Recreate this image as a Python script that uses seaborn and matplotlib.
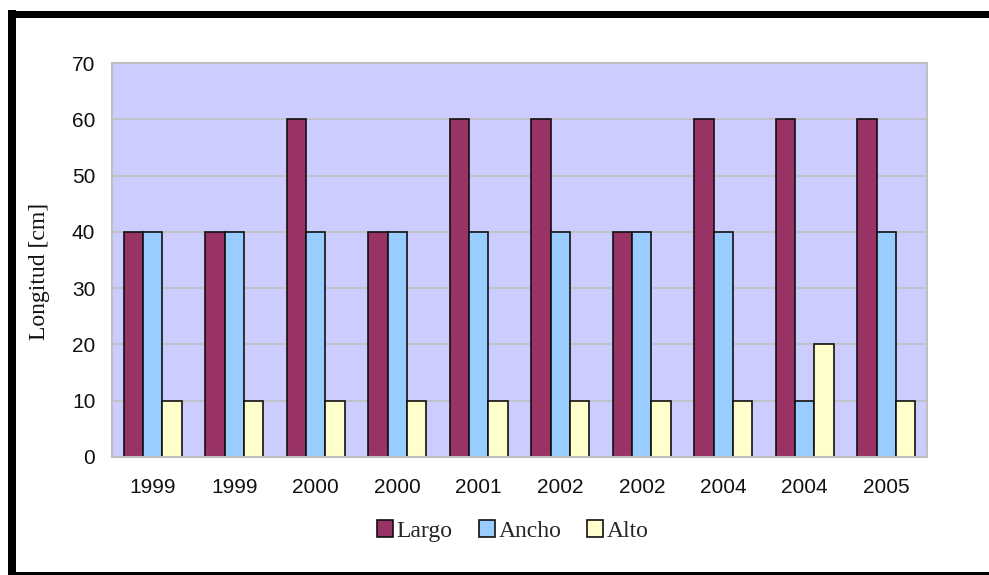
import matplotlib
matplotlib.use("Agg")
import matplotlib.pyplot as plt
from matplotlib.lines import Line2D
from matplotlib.patches import Patch
from matplotlib.ticker import FixedLocator, MultipleLocator
import numpy as np
import pandas as pd
import seaborn as sns

years = ["1999", "1999", "2000", "2000", "2001", "2002", "2002", "2004", "2004", "2005"]
largo = [40, 40, 60, 40, 60, 60, 40, 60, 60, 60]
ancho = [40, 40, 40, 40, 40, 40, 40, 40, 10, 40]
alto = [10, 10, 10, 10, 10, 10, 10, 10, 20, 10]
series = ["Largo", "Ancho", "Alto"]
colors = ["#993366", "#99CCFF", "#FFFFCC"]

rows = []
for name, vals in zip(series, [largo, ancho, alto]):
    for i, v in enumerate(vals):
        rows.append({"pos": i, "Serie": name, "valor": v})
df = pd.DataFrame(rows)

sns.set_theme(style="white")
plt.rcParams["font.family"] = ["Liberation Sans", "DejaVu Sans"]
serif = ["Liberation Serif", "DejaVu Serif"]

fig = plt.figure(figsize=(9.89, 5.75), dpi=100)
ax = fig.add_axes([112 / 989, 1 - 457 / 575, 815 / 989, 394 / 575])
ax.set_facecolor("#CCCCFF")

sns.barplot(data=df, x="pos", y="valor", hue="Serie", hue_order=series,
            palette=colors, width=0.71, edgecolor="#111111", linewidth=1.2,
            saturation=1, legend=False, ax=ax)

ax.set_ylim(0, 70)
ax.set_xlim(-0.5, len(years) - 0.5)
ax.yaxis.set_major_locator(MultipleLocator(10))
ax.grid(axis="y", color="#BFBFBF", linewidth=1.2)
ax.set_axisbelow(True)

ax.set_xticks(range(len(years)))
ax.set_xticklabels(years)
ax.xaxis.set_minor_locator(FixedLocator(np.arange(-0.5, len(years), 1.0)))
ax.tick_params(axis="x", which="major", length=0, pad=15, labelsize=15, labelcolor="#111111")
ax.tick_params(axis="x", which="minor", length=5, width=1.2, color="#BFBFBF", direction="out")
ax.tick_params(axis="y", length=5, width=1.2, color="#BFBFBF", direction="out",
               pad=7, labelsize=15, labelcolor="#111111")

for sp in ax.spines.values():
    sp.set_visible(True)
    sp.set_color("#BFBFBF")
    sp.set_linewidth(1.5)

ax.set_xlabel("")
ax.set_ylabel("Longitud [cm]", fontsize=17, family=serif, color="#111111")
ax.yaxis.set_label_coords(-0.076, 0.47)

handles = [Patch(facecolor=c, edgecolor="#111111", linewidth=1.2) for c in colors]
fig.legend(handles, series, loc="center", bbox_to_anchor=(513 / 989, 1 - 531 / 575),
           ncol=3, frameon=False, handlelength=0.68, handleheight=0.68,
           handletextpad=0.15, columnspacing=1.1,
           prop={"family": serif, "size": 17})

# black frame around the chart area
fig.add_artist(Line2D([12 / 989, 12 / 989], [0, 1 - 10 / 575], color="black",
                      linewidth=8 * 0.72, transform=fig.transFigure, solid_capstyle="butt"))
fig.add_artist(Line2D([8 / 989, 1], [1 - 13.5 / 575, 1 - 13.5 / 575], color="black",
                      linewidth=7 * 0.72, transform=fig.transFigure, solid_capstyle="butt"))
fig.add_artist(Line2D([8 / 989, 1], [0, 0], color="black",
                      linewidth=7 * 0.72, transform=fig.transFigure, solid_capstyle="butt"))

fig.savefig("out.png", dpi=100)
